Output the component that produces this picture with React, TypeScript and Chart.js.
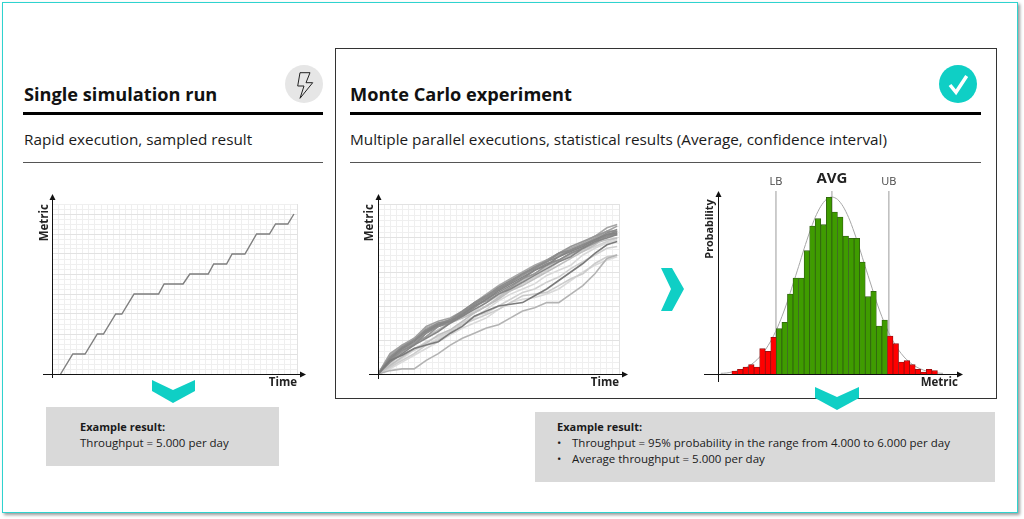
import React, { useEffect, useRef } from "react";
import { Chart, registerables } from "chart.js";

Chart.register(...registerables);

// ---------- Single run ----------
const singleX = [1.4, 3.4, 5.4, 7.4, 8.4, 10.4, 11.4, 13.4, 17.4, 18.3, 21.4, 22.5, 25.5, 26.4, 28.5, 29.4, 31.5, 33.4, 35.5, 36.5, 38.5, 39.5];
const singleY = [0, 2, 2, 4, 4, 6, 6, 8, 8, 9, 9, 10, 10, 11, 11, 12, 12, 14, 14, 15, 15, 16];

// ---------- Monte Carlo runs ----------
const runX = [0, 2, 4, 6, 8, 10, 12, 14, 16, 18, 20, 22, 24, 26, 28, 30, 32, 34, 36, 38, 39.7];
const runColors = ["#d9d9d9", "#d9d9d9", "#d0d0d0", "#d0d0d0", "#cccccc", "#bfbfbf", "#bfbfbf", "#b3b3b3", "#a6a6a6", "#a0a0a0", "#979797", "#979797", "#8c8c8c", "#8c8c8c", "#8c8c8c", "#858585", "#858585", "#7a7a7a"];
const runs = [
  [0, 4, 9, 14, 17, 21, 25, 29, 33, 38, 43, 47, 50, 53, 58, 61, 64, 70, 74, 77, 79],
  [0, 3, 7, 11, 15, 19, 23, 27, 30, 33, 38, 42, 44, 45, 47, 50, 55, 60, 64, 67, 69],
  [0, 9, 16, 21, 25, 28, 31, 33, 37, 42, 46, 49, 53, 57, 61, 66, 70, 72, 75, 78, 80],
  [0, 6, 12, 14, 19, 22, 25, 30, 34, 36, 40, 44, 48, 50, 54, 57, 62, 66, 70, 74, 75],
  [0, 4, 8, 12, 17, 20, 24, 29, 32, 35, 38, 42, 46, 47, 48, 52, 56, 59, 65, 69, 70],
  [0, 5, 10, 15, 18, 23, 26, 31, 36, 40, 44, 49, 52, 56, 60, 64, 68, 72, 76, 81, 82],
  [0, 7, 14, 18, 22, 26, 30, 33, 36, 40, 45, 50, 55, 59, 63, 67, 70, 73, 77, 79, 80],
  [0, 2, 3, 3, 8, 12, 17, 21, 24, 27, 29, 33, 37, 39, 42, 42, 47, 52, 59, 68, 70],
  [0, 11, 17, 20, 27, 30, 32, 36, 42, 47, 52, 56, 60, 64, 67, 71, 74, 77, 81, 86, 88],
  [0, 12, 17, 21, 28, 31, 33, 37, 42, 46, 50, 54, 58, 63, 67, 70, 73, 76, 80, 84, 87],
  [0, 8, 13, 18, 22, 28, 30, 35, 40, 43, 47, 51, 56, 59, 64, 67, 71, 74, 77, 81, 82],
  [0, 10, 15, 18, 24, 29, 31, 36, 41, 46, 50, 54, 58, 62, 67, 71, 75, 78, 81, 84, 84],
  [0, 10, 16, 20, 26, 30, 31, 36, 41, 45, 50, 54, 59, 62, 66, 69, 73, 76, 79, 83, 85],
  [0, 8, 14, 17, 24, 28, 31, 34, 39, 44, 48, 52, 56, 61, 65, 67, 71, 74, 78, 82, 84],
  [0, 9, 15, 20, 26, 29, 32, 37, 42, 46, 51, 55, 59, 63, 66, 71, 73, 76, 79, 81, 83],
  [0, 7, 12, 17, 21, 25, 30, 34, 38, 42, 47, 50, 54, 58, 62, 66, 69, 74, 78, 80, 82],
  [0, 9, 15, 19, 25, 29, 31, 35, 40, 44, 49, 53, 57, 61, 64, 69, 72, 75, 79, 82, 83],
  [0, 8, 11, 15, 17, 19, 24, 28, 34, 37, 40, 41, 42, 46, 50, 55, 60, 65, 71, 76, 78],
];

// ---------- Histogram ----------
const lowerTail = [9, 14, 21, 28, 21, 76, 68, 110];
const middle = [136, 155, 240, 288, 288, 370, 444, 466, 448, 530, 486, 471, 414, 407, 407, 336, 232, 248, 144, 162];
const upperTail = [114, 91, 36, 40, 28, 14, 6, 14, 10];
const curveX = [-2.5, -1.5, -0.5, 0.5, 1.5, 2.5, 3.5, 4.5, 5.5, 6.5, 7.5, 8.5, 9.5, 10.5, 11.5, 12.5, 13.5, 14.5, 15.5, 16.5, 17.5, 18.5, 19.5, 20.5, 21.5, 22.5, 23.5, 24.5, 25.5, 26.5, 27.5, 28.5, 29.5, 30.5, 31.5, 32.5, 33.5, 34.5, 35.5, 36.5, 37.5];
const curveY = [2, 3, 6, 9, 15, 23, 35, 51, 72, 99, 132, 172, 218, 270, 322, 376, 426, 470, 503, 524, 531, 524, 503, 470, 426, 376, 322, 270, 218, 172, 132, 99, 72, 51, 35, 23, 15, 9, 6, 3, 2];
const bounds = [7.43, 17.5, 27.75];
const boundLabels = ["LB", "AVG", "UB"];

const FONT = '"Open Sans", sans-serif';

function arrows(ext: { left: number; right: number; top: number; bottom: number }) {
  return {
    id: "arrows",
    afterDraw(chart: any) {
      const { ctx, chartArea: a } = chart;
      ctx.save();
      ctx.strokeStyle = "#111";
      ctx.fillStyle = "#111";
      ctx.lineWidth = 1;
      const xr = a.right + ext.right;
      const yt = a.top - ext.top;
      ctx.beginPath();
      ctx.moveTo(a.left - ext.left, a.bottom + 0.5);
      ctx.lineTo(xr - 4, a.bottom + 0.5);
      ctx.moveTo(a.left + 0.5, a.bottom + ext.bottom);
      ctx.lineTo(a.left + 0.5, yt + 4);
      ctx.stroke();
      ctx.beginPath();
      ctx.moveTo(xr, a.bottom + 0.5);
      ctx.lineTo(xr - 6, a.bottom - 2.5);
      ctx.lineTo(xr - 6, a.bottom + 3.5);
      ctx.closePath();
      ctx.fill();
      ctx.beginPath();
      ctx.moveTo(a.left + 0.5, yt);
      ctx.lineTo(a.left - 2.5, yt + 6);
      ctx.lineTo(a.left + 3.5, yt + 6);
      ctx.closePath();
      ctx.fill();
      ctx.restore();
    },
  };
}

const histLabels = {
  id: "histLabels",
  afterDraw(chart: any) {
    const { ctx, scales } = chart;
    ctx.save();
    ctx.textAlign = "center";
    ctx.textBaseline = "middle";
    boundLabels.forEach((t, i) => {
      const bold = t === "AVG";
      ctx.font = bold ? `bold 15px ${FONT}` : `11px ${FONT}`;
      ctx.fillStyle = bold ? "#222" : "#444";
      ctx.fillText(t, scales.x.getPixelForValue(bounds[i]), bold ? 179 - 165 : 182 - 165);
    });
    ctx.translate(710 - 695, 229 - 165);
    ctx.rotate(-Math.PI / 2);
    ctx.font = `bold 10.8px ${FONT}`;
    ctx.fillStyle = "#222";
    ctx.fillText("Probability", 0, 0);
    ctx.restore();
  },
};

function gridScale(min: number, max: number, step: number, major: number, extra: any = {}) {
  return {
    type: "linear",
    min,
    max,
    ticks: { display: false, stepSize: step, autoSkip: false, maxTicksLimit: 500 },
    border: { display: false },
    grid: {
      drawTicks: false,
      tickLength: 0,
      lineWidth: 1,
      color: (c: any) => (Math.abs(c.tick.value / major - Math.round(c.tick.value / major)) < 1e-6 ? "#e2e2e2" : "#efefef"),
    },
    ...extra,
  };
}

const axisTitle = (text: string, align = "end") => ({
  display: true,
  text,
  align,
  color: "#222",
  padding: 0,
  font: { family: FONT, size: 11.5, weight: "bold" },
});

function lineOptions(xs: any, ys: any, pad: any) {
  return {
    animation: false,
    responsive: false,
    layout: { padding: pad },
    plugins: { legend: { display: false }, tooltip: { enabled: false } },
    elements: { point: { radius: 0 } },
    scales: { x: xs, y: ys },
  };
}

const fitW = (w: number) => (s: any) => { s.width = w; };
const fitH = (h: number) => (s: any) => { s.height = h; };

function singleConfig() {
  return {
    type: "line",
    data: {
      datasets: [{
        data: singleX.map((x, i) => ({ x, y: singleY[i] })),
        borderColor: "#7f7f7f",
        borderWidth: 1.4,
        tension: 0,
      }],
    },
    options: lineOptions(
      gridScale(0, 40, 1, 40, { title: axisTitle("Time"), afterFit: fitH(16) }),
      gridScale(0, 17, 0.5, 2, { title: axisTitle("Metric"), afterFit: fitW(14) }),
      { top: 14, right: 23, left: 8, bottom: 0 }
    ),
    plugins: [arrows({ left: 9, right: 9, top: 10, bottom: 4 })],
  };
}

function monteConfig() {
  return {
    type: "line",
    data: {
      datasets: runs.map((r, k) => ({
        data: runX.map((x, i) => ({ x, y: r[i] })),
        borderColor: runColors[k],
        borderWidth: 1.6,
        tension: 0,
        order: runs.length - k,
      })),
    },
    options: lineOptions(
      gridScale(0, 40, 1, 40, { title: axisTitle("Time"), afterFit: fitH(16) }),
      gridScale(0, 100, 20 / 6, 20, { title: axisTitle("Metric"), afterFit: fitW(15) }),
      { top: 14, right: 21, left: 7, bottom: 0 }
    ),
    plugins: [arrows({ left: 9, right: 9, top: 10, bottom: 5 })],
  };
}

function histConfig() {
  const heights = [...lowerTail, ...middle, ...upperTail];
  const isMid = (i: number) => i >= lowerTail.length && i < lowerTail.length + middle.length;
  return {
    type: "bar",
    data: {
      datasets: [
        {
          type: "bar",
          order: 1,
          data: heights.map((y, i) => ({ x: i, y })),
          backgroundColor: heights.map((_, i) => (isMid(i) ? "#3f9c00" : "#ff0000")),
          borderColor: heights.map((_, i) => (isMid(i) ? "#2f5f10" : "#8f1010")),
          borderWidth: 0.8,
          barPercentage: 1,
          categoryPercentage: 1,
        },
        {
          type: "line",
          order: 2,
          data: curveX.map((x, i) => ({ x, y: curveY[i] })),
          borderColor: "#a6a6a6",
          borderWidth: 1,
          pointRadius: 0,
          tension: 0.3,
        },
        ...bounds.map((b) => ({
          type: "line",
          order: 3,
          data: [{ x: b, y: 0 }, { x: b, y: 549 }],
          borderColor: "#b8b8b8",
          borderWidth: 1.4,
          pointRadius: 0,
        })),
      ],
    },
    options: {
      animation: false,
      responsive: false,
      layout: { padding: { top: 26, right: 22, left: 0, bottom: 0 } },
      plugins: { legend: { display: false }, tooltip: { enabled: false } },
      scales: {
        x: {
          type: "linear",
          min: -3,
          max: 40.2,
          offset: false,
          ticks: { display: false },
          border: { display: false },
          grid: { display: false },
          title: axisTitle("Metric"),
          afterFit: fitH(16),
        },
        y: {
          min: 0,
          max: 549,
          ticks: { display: false },
          border: { display: false },
          grid: { display: false },
          afterFit: fitW(23),
        },
      },
    },
    plugins: [arrows({ left: 14, right: 5, top: 0, bottom: 8 }), histLabels],
  };
}

function ChartBox({ make, left, top, width, height }: any) {
  const ref = useRef<HTMLCanvasElement>(null);
  useEffect(() => {
    const c = new Chart(ref.current as any, make());
    return () => c.destroy();
  }, []);
  return (
    <canvas
      ref={ref}
      width={width}
      height={height}
      style={{ position: "absolute", left, top, width, height, display: "block" }}
    />
  );
}

function T({ x, y, size, weight = 400, color = "#1a1a1a", children }: any) {
  return (
    <div
      style={{
        position: "absolute",
        left: x,
        top: y,
        fontFamily: FONT,
        fontSize: size,
        fontWeight: weight,
        color,
        lineHeight: "20px",
        height: 20,
        marginTop: -10,
        whiteSpace: "nowrap",
      }}
    >
      {children}
    </div>
  );
}

function Rect({ x, y, w, h, bg }: any) {
  return <div style={{ position: "absolute", left: x, top: y, width: w, height: h, background: bg }} />;
}

export default function App() {
  return (
    <div style={{ position: "fixed", left: 0, top: 0, width: 1024, height: 519, background: "#fff", overflow: "hidden" }}>
      <div
        style={{
          position: "absolute", left: 2, top: 2, width: 1014, height: 509,
          border: "1.5px solid #2fd3cf", boxShadow: "2px 2px 3px #9a9a9a", background: "#fff",
        }}
      />
      <div style={{ position: "absolute", left: 335, top: 48, width: 660, height: 349, border: "1.3px solid #333" }} />

      <Rect x={23} y={112} w={300} h={2.6} bg="#000" />
      <Rect x={23} y={162} w={300} h={1} bg="#555" />
      <Rect x={350} y={112} w={631} h={2.6} bg="#000" />
      <Rect x={350} y={162} w={631} h={1} bg="#555" />

      <T x={24} y={94} size={18.2} weight={700} color="#111">Single simulation run</T>
      <T x={24} y={139} size={15.3}>Rapid execution, sampled result</T>
      <T x={350} y={94} size={18.2} weight={700} color="#111">Monte Carlo experiment</T>
      <T x={350} y={139} size={15.3}>Multiple parallel executions, statistical results (Average, confidence interval)</T>

      <Rect x={46} y={407} w={233} h={59} bg="#d9d9d9" />
      <T x={80} y={427} size={11} weight={700}>Example result:</T>
      <T x={80} y={443} size={11.5}>Throughput = 5.000 per day</T>

      <Rect x={535} y={412} w={460} h={70} bg="#d9d9d9" />
      <T x={557} y={427} size={11} weight={700}>Example result:</T>
      <T x={557} y={443} size={11.5}>•</T>
      <T x={572} y={443} size={11.5}>Throughput = 95% probability in the range from 4.000 to 6.000 per day</T>
      <T x={557} y={459} size={11.5}>•</T>
      <T x={572} y={459} size={11.5}>Average throughput = 5.000 per day</T>

      <svg width={1024} height={519} style={{ position: "absolute", left: 0, top: 0 }}>
        <circle cx={304} cy={84} r={19} fill="#e6e6e6" />
        <polygon points="300,72.7 310,72.7 306,82.7 312.7,82.7 300,98.3 304,86 297.7,86" fill="none" stroke="#222" strokeWidth={1} />
        <circle cx={958} cy={84} r={19} fill="#0fcfc5" />
        <polyline points="950,85 956,92.3 966.7,76" fill="none" stroke="#fff" strokeWidth={3.5} />
        <polygon points="152,380 173,390 195,380 195,391 173,403 152,391" fill="#0fcfc5" />
        <polygon points="815,387 837,397 859,387 859,398 837,410 815,398" fill="#0fcfc5" />
        <polygon points="661,268 672,268 684,289 672,311 661,311 671,289" fill="#0fcfc5" />
      </svg>

      <ChartBox make={singleConfig} left={30} top={190} width={290} height={200} />
      <ChartBox make={monteConfig} left={356} top={190} width={284} height={200} />
      <ChartBox make={histConfig} left={695} top={165} width={285} height={225} />
    </div>
  );
}
